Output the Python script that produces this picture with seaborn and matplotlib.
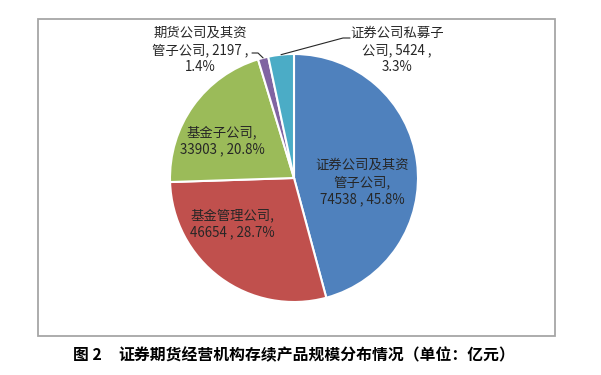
import numpy as np
import seaborn as sns
import matplotlib.pyplot as plt
from matplotlib.patches import Rectangle

# data
categories = ["证券公司及其资\n管子公司", "基金管理公司", "基金子公司",
              "期货公司及其资\n管子公司", "证券公司私募子\n公司"]
values = [74538, 46654, 33903, 2197, 5424]
percents = ["45.8%", "28.7%", "20.8%", "1.4%", "3.3%"]
colors = ["#4F81BD", "#C0504D", "#9BBB59", "#8064A2", "#4BACC6"]
caption = "证券期货经营机构存续产品规模分布情况（单位：亿元）"

sns.set_theme(style="white")
plt.rcParams["font.family"] = ["Noto Sans CJK SC", "DejaVu Sans"]

W, H = 601, 375
fig = plt.figure(figsize=(W / 100, H / 100), dpi=100)
ax = fig.add_axes([0, 0, 1, 1])

# pixel-based data coords (y up)
cx, cy, r = 294, H - 178, 124
wedges, _ = ax.pie(values, colors=colors, startangle=90, counterclock=False,
                   center=(cx, cy), radius=r,
                   wedgeprops=dict(edgecolor="white", linewidth=1.5))
ax.set_xlim(0, W)
ax.set_ylim(0, H)
ax.set_aspect("equal")
ax.axis("off")

# chart frame
ax.add_patch(Rectangle((38, H - 336), 517, 317, fill=False,
                       edgecolor="#a6a6a6", linewidth=1.3))

txt = dict(ha="center", va="center", fontsize=9.6, color="#262626",
           linespacing=1.3)

# labels inside the big wedges
ax.text(362, H - 182, f"{categories[0]},\n{values[0]} , {percents[0]}", **txt)
ax.text(232, H - 224, f"{categories[1]},\n{values[1]} , {percents[1]}", **txt)
ax.text(222, H - 141, f"{categories[2]},\n{values[2]} , {percents[2]}", **txt)

# outside labels for the small wedges
ax.text(200, H - 50, f"{categories[3]}, {values[3]} ,\n{percents[3]}", **txt)
ax.text(397, H - 50, f"{categories[4]}, {values[4]} ,\n{percents[4]}", **txt)


def edge_point(w):
    mid = np.deg2rad((w.theta1 + w.theta2) / 2)
    return cx + r * np.cos(mid), cy + r * np.sin(mid)


px, py = edge_point(wedges[3])
ax.plot([252, 258, px], [H - 53, H - 53, py], color="#262626", lw=0.8)
qx, qy = edge_point(wedges[4])
ax.plot([qx, 343, 350], [qy, H - 38, H - 38], color="#262626", lw=0.8)

# caption
ax.text(73, H - 355, "图 2", ha="left", va="center", fontsize=11.4,
        fontweight="bold", color="black")
ax.text(118, H - 355, caption, ha="left", va="center", fontsize=11.4,
        fontweight="bold", color="black")

fig.savefig("out.png", dpi=100)
